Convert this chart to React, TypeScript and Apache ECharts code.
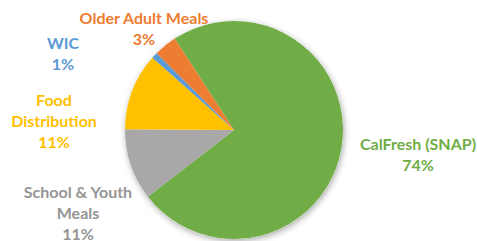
import React, { useEffect, useRef } from "react";
import * as echarts from "echarts";

const categories = ["CalFresh (SNAP)", "School & Youth Meals", "Food Distribution", "WIC", "Older Adult Meals"];
const labelNames = ["CalFresh (SNAP)", "School & Youth\nMeals", "Food\nDistribution", "WIC", "Older Adult Meals"];
const values = [73.6, 10.6, 11.4, 0.9, 3.4];
const colors = ["#70AD47", "#A9A7A7", "#FFC000", "#5B9BD5", "#ED7D31"];
const labelColors = ["#70AD47", "#959595", "#FFC000", "#5B9BD5", "#ED7D31"];
const labelPos: [number, number][] = [
  [418, 154],
  [78, 212],
  [54, 120],
  [63, 53],
  [144, 28],
];

export default function App() {
  const ref = useRef<HTMLDivElement>(null);
  useEffect(() => {
    if (!ref.current) return;
    const chart = echarts.init(ref.current, undefined, { renderer: "svg" });
    chart.setOption({
      animation: false,
      backgroundColor: "#ffffff",
      series: [
        {
          type: "pie",
          silent: true,
          center: [234, 130],
          radius: 109,
          label: { show: false },
          labelLine: { show: false },
          data: [{ value: 1, itemStyle: { color: "#ffffff", shadowBlur: 6, shadowColor: "rgba(0,0,0,0.35)", shadowOffsetX: 1, shadowOffsetY: 2 } }],
        },
        {
          type: "pie",
          center: [234, 130],
          radius: 109,
          startAngle: 123,
          clockwise: true,
          percentPrecision: 0,
          avoidLabelOverlap: false,
          labelLine: { show: false },
          label: {
            show: true,
            position: "outside",
            fontFamily: "Lato",
            fontWeight: "bold",
            fontSize: 16,
            lineHeight: 21,
            align: "center",
            formatter: (p: any) => `${labelNames[p.dataIndex]}\n${p.percent}%`,
          },
          labelLayout: (p: any) => ({
            x: labelPos[p.dataIndex][0],
            y: labelPos[p.dataIndex][1],
            align: "center",
            verticalAlign: "middle",
          }),
          data: categories.map((name, i) => ({
            name,
            value: values[i],
            itemStyle: { color: colors[i] },
            label: { color: labelColors[i] },
          })),
        },
      ],
    });
    return () => chart.dispose();
  }, []);
  return <div ref={ref} style={{ position: "fixed", left: 0, top: 0, width: 477, height: 241 }} />;
}
